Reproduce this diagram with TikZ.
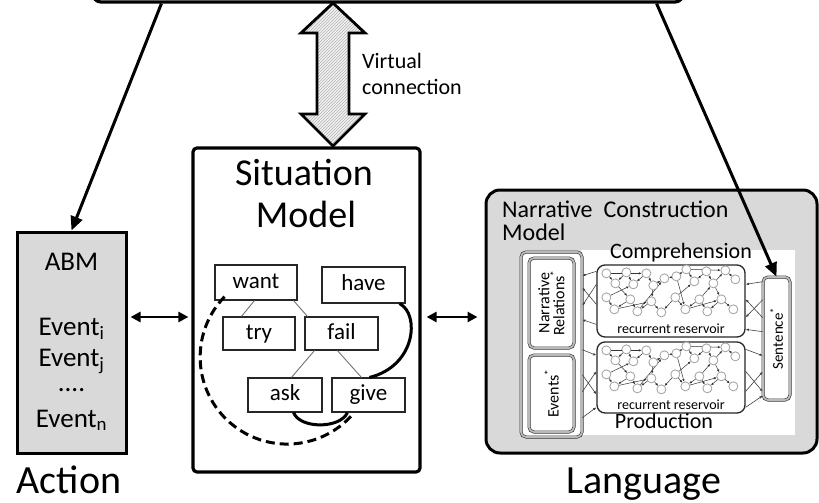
\documentclass[tikz,border=0pt]{standalone}
\usepackage{fontspec}
\setmainfont{Carlito}
\usetikzlibrary{arrows.meta,patterns,calc}
\newcommand{\setsz}[1]{\fontsize{#1}{#1}\selectfont}
\definecolor{boxgray}{RGB}{217,217,217}
\newcommand{\resnet}[1]{%
 \begin{scope}[shift={(#1)}]
  \foreach \n/\p in {u1/{10,9},u2/{19,19},u3/{30,8},u4/{37,20},u5/{50,9},u6/{57,21},u7/{68,14},u8/{80,12},u9/{90,5},u10/{98,17},u11/{110,7},u12/{117,19},u13/{129,6},u14/{139,15},
                     l1/{10,33},l2/{18,45},l3/{34,35},l4/{41,47},l5/{55,37},l6/{65,48},l7/{79,33},l8/{89,45},l9/{103,35},l10/{111,47},l11/{125,35},l12/{137,45}}
    \coordinate (\n) at (\p);
  \foreach \s/\t in {u1/u2,u3/u2,u3/u4,u5/u4,u5/u6,u6/u7,u8/u7,u8/u9,u9/u10,u11/u10,u11/u12,u12/u13,u14/u13,
                     l1/l2,l3/l2,l3/l4,l5/l4,l5/l6,l7/l6,l7/l8,l9/l8,l9/l10,l11/l10,l11/l12,
                     u2/l3,l1/u4,u6/l5,l4/u7,u8/l8,l7/u10,u12/l11,l9/u12,u1/u5,u9/u13,l2/l5,l8/l11}
    \draw[ra] (\s) -- (\t);
  \foreach \n in {u1,u2,u3,u4,u5,u6,u7,u8,u9,u10,u11,u12,u13,u14,l1,l2,l3,l4,l5,l6,l7,l8,l9,l10,l11,l12}
    \draw[rc] (\n) circle (4.5);
 \end{scope}}
\begin{document}
\begin{tikzpicture}[x=1pt,y=-1pt,
  box/.style={draw=black, line width=3.2pt, fill=white, inner sep=0pt, rounded corners=4pt},
  grbox/.style={draw=black, line width=3pt, fill=boxgray, inner sep=0pt},
  word/.style={draw=black!85, line width=1.1pt, fill=white, inner sep=0pt, font=\setsz{23}, text height=15pt, text depth=4pt},
  link/.style={draw=black!55, line width=0.9pt},
  bigarr/.style={draw=black, line width=3pt, -{Triangle[length=14pt,width=12pt]}},
  dblarr/.style={draw=black, line width=2.6pt, {Triangle[length=10pt,width=10pt]}-{Triangle[length=10pt,width=10pt]}},
  dline/.style={draw=black!80, double=gray!55, double distance=1.8pt, line width=0.6pt, rounded corners=5pt, fill=white, inner sep=0pt},
  resbox/.style={draw=black!85, line width=1.3pt, rounded corners=8pt, inner sep=0pt},
  rc/.style={draw=gray!75, fill=white, line width=0.8pt},
  ra/.style={draw=black!80, line width=0.5pt, -{Latex[length=2.8pt,width=2.4pt]}, shorten >=4.7pt, shorten <=4.7pt},
  ca/.style={draw=black!75, line width=0.6pt, -{Latex[length=3.2pt,width=2.6pt]}},
  txt/.style={inner sep=0pt, anchor=base}
]
\useasboundingbox[fill=white] (0,0) rectangle (819,503);

% ---------- top box (partly visible) ----------
\node[box, rounded corners=8pt, minimum width=590pt, minimum height=60pt] (top) at (388,-28) {};

% ---------- ABM box ----------
\node[grbox, minimum width=109pt, minimum height=221pt] (abm) at (71.5,342.5) {};
\node[txt, font=\setsz{27}] (abmt) at (71.5,270) {ABM};
\node[txt, font=\setsz{27}] (evi) at (71.5,335) {Event\textsubscript{i}};
\node[txt, font=\setsz{27}] (evj) at (71.5,366) {Event\textsubscript{j}};
\node[txt, font=\setsz{27}] (evd) at (71.5,391) {....};
\node[txt, font=\setsz{27}] (evn) at (71.5,427) {Event\textsubscript{n}};
\node[txt, font=\setsz{40}] (action) at (69,493) {Action};

% ---------- Situation model ----------
\node[box, minimum width=227pt, minimum height=324pt] (sit) at (306.5,310) {};
\node[txt, font=\setsz{38}] (sitt1) at (304,185) {Situation};
\node[txt, font=\setsz{38}] (sitt2) at (306,227) {Model};

\node[word, minimum width=82pt, minimum height=35pt] (want) at (256,282.5) {want};
\node[word, minimum width=83pt, minimum height=36pt] (have) at (363.5,285) {have};
\node[word, minimum width=72pt, minimum height=33pt] (try) at (259,333.5) {try};
\node[word, minimum width=73pt, minimum height=33pt] (fail) at (341.5,333.5) {fail};
\node[word, minimum width=74pt, minimum height=34pt] (ask) at (285,395) {ask};
\node[word, minimum width=73pt, minimum height=34pt] (give) at (368.5,395) {give};

\draw[link] ($(want.south west)+(40,0)$) -- ($(try.north west)+(19,0)$);
\draw[link] ($(want.south east)+(-4,0)$) -- ($(fail.north west)+(3,0)$);
\draw[link] ($(fail.south west)+(10,0)$) -- ($(ask.north west)+(44,0)$);
\draw[link] ($(fail.south west)+(33,0)$) -- ($(give.north west)+(30,0)$);

\draw[line width=3pt, dash pattern=on 9pt off 5pt] (285,355) ++(224:84) arc[start angle=224, end angle=42, radius=87];
\draw[line width=3pt] ($(have.south east)+(-6,0)$) .. controls (420,314) and (416,366) .. ($(give.north west)+(38,0)$);
\draw[line width=3pt] ($(ask.south east)+(-29,0)$) .. controls (300,429) and (340,429) .. ($(give.south west)+(16,0)$);

% ---------- hatched virtual connection ----------
\draw[line width=2.8pt, line join=miter, preaction={fill=gray!10}, pattern=north east lines, pattern color=gray!60]
  (333,3) -- (365,33) -- (349,33) -- (349,114) -- (365,114) -- (333,146)
  -- (301,114) -- (317,114) -- (317,33) -- (301,33) -- cycle;
\node[txt, anchor=base west, font=\setsz{22}] (vc1) at (362,69) {Virtual};
\node[txt, anchor=base west, font=\setsz{22}] (vc2) at (362,94) {connection};

% ---------- Language box ----------
\node[grbox, rounded corners=14pt, minimum width=331pt, minimum height=263pt] (lang) at (651.5,321.5) {};
\node[txt, anchor=base west, font=\setsz{24}] (nc1) at (502,217) {Narrative\ \ Construction};
\node[txt, anchor=base west, font=\setsz{24}] (nc2) at (502,240) {Model};
\node[fill=white, inner sep=0pt, minimum width=214pt, minimum height=185pt] (white) at (688,342.5) {};
\node[txt, font=\setsz{22}] (comp) at (681,258) {Comprehension};
\node[txt, font=\setsz{22}] (prod) at (664,428) {Production};
\node[txt, font=\setsz{40}] (language) at (644,493) {Language};

\node[dline, minimum width=61pt, minimum height=185pt] (narout) at (551.5,344.5) {};
\node[dline, minimum width=45pt, minimum height=90pt] (narrel) at (551.5,303) {};
\node[dline, minimum width=45pt, minimum height=77pt] (events) at (551.5,393.5) {};
\node[inner sep=0pt, rotate=90, align=center, font=\setsz{16}] (nrt) at (narrel.center) {Narrative\\[-1pt]Relations\textsuperscript{*}};
\node[inner sep=0pt, rotate=90, font=\setsz{16}] (evt) at (events.center) {Events\textsuperscript{*}};
\node[dline, minimum width=27pt, minimum height=123pt] (sent) at (776.5,338.5) {};
\node[inner sep=0pt, rotate=90, font=\setsz{15}] (sentt) at (sent.center) {Sentence\textsuperscript{*}};

\node[resbox, minimum width=148pt, minimum height=72pt] (res1) at (671,301) {};
\node[resbox, minimum width=148pt, minimum height=71pt] (res2) at (671,377.5) {};

\resnet{res1.north west}
\resnet{res2.north west}
\node[txt, font=\setsz{14}] (rr1) at (671,333) {recurrent reservoir};
\node[txt, font=\setsz{14}] (rr2) at (671,409) {recurrent reservoir};

% connections reservoir <-> narrative
\draw[ca] ($(res1.north west)+(0,7)$) -- ($(narout.north east)+(0,24)$);
\draw[ca] ($(res1.north west)+(0,20)$) -- ($(narout.north east)+(0,54)$);
\draw[ca] ($(res1.north west)+(0,40)$) -- ($(narout.north east)+(0,36)$);
\draw[ca] ($(res1.north west)+(0,60)$) -- ($(narout.north east)+(0,68)$);
\draw[ca] ($(narout.north east)+(0,98)$) -- ($(res2.north west)+(0,14)$);
\draw[ca] ($(narout.north east)+(0,123)$) -- ($(res2.north west)+(0,53)$);
\draw[ca] ($(narout.north east)+(0,140)$) -- ($(res2.north west)+(0,30)$);
\draw[ca] ($(narout.north east)+(0,166)$) -- ($(res2.north west)+(0,66)$);
% connections reservoir <-> sentence
\draw[ca] ($(sent.north west)+(0,5)$) -- ($(res1.north east)+(0,20)$);
\draw[ca] ($(sent.north west)+(0,23)$) -- ($(res1.north east)+(0,53)$);
\draw[ca] ($(sent.north west)+(0,41)$) -- ($(res1.north east)+(0,35)$);
\draw[ca] ($(sent.north west)+(0,55)$) -- ($(res1.north east)+(0,65)$);
\draw[ca] ($(res2.north east)+(0,8)$) -- ($(sent.north west)+(0,79)$);
\draw[ca] ($(res2.north east)+(0,30)$) -- ($(sent.north west)+(0,115)$);
\draw[ca] ($(res2.north east)+(0,50)$) -- ($(sent.north west)+(0,95)$);
\draw[ca] ($(res2.north east)+(0,66)$) -- ($(sent.north west)+(0,119)$);

% ---------- main connectors ----------
\coordinate (yl) at (0,317);
\draw[dblarr, shorten <=3pt, shorten >=3pt] (abm.east |- yl) -- (sit.west |- yl);
\draw[dblarr, shorten <=5pt, shorten >=7pt] (sit.east |- yl) -- (lang.west |- yl);
\draw[bigarr] ($(top.south west)+(70,0)$) -- (abm.north);
\draw[bigarr] ($(top.south east)+(-28,0)$) -- (sent.north);
\end{tikzpicture}
\end{document}
